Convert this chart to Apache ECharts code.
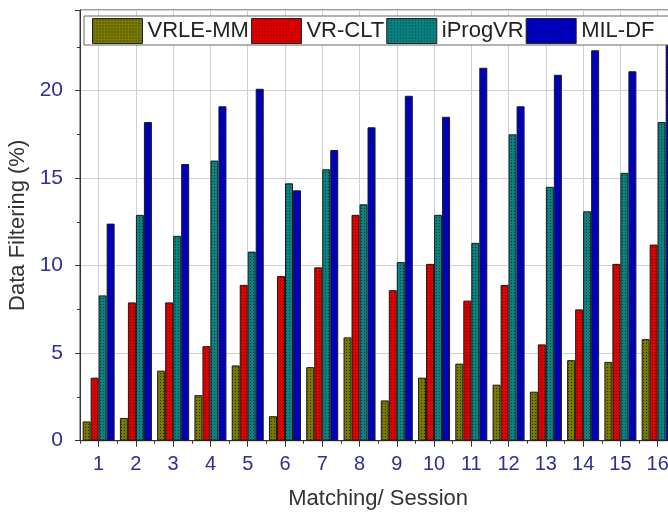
<!DOCTYPE html>
<html>
<head>
<meta charset="utf-8">
<title>Data Filtering per Matching Session</title>
<script src="https://cdn.jsdelivr.net/npm/echarts@6/dist/echarts.min.js"></script>
<style>
  html, body { margin: 0; padding: 0; background: #fff; }
  #chart { width: 668px; height: 514px; }
</style>
</head>
<body>
<div id="chart"></div>
<script>
// Sessions on the x axis
const sessions = ['1', '2', '3', '4', '5', '6', '7', '8', '9', '10', '11', '12', '13', '14', '15', '16'];

// Data filtering (%) per method
const vrleMM  = [1.1, 1.3, 4.0, 2.6, 4.3, 1.4, 4.2, 5.9, 2.3, 3.6, 4.4, 3.2, 2.8, 4.6, 4.5, 5.8];
const vrCLT   = [3.6, 7.9, 7.9, 5.4, 8.9, 9.4, 9.9, 12.9, 8.6, 10.1, 8.0, 8.9, 5.5, 7.5, 10.1, 11.2];
const iProgVR = [8.3, 12.9, 11.7, 16.0, 10.8, 14.7, 15.5, 13.5, 10.2, 12.9, 11.3, 17.5, 14.5, 13.1, 15.3, 18.2];
const milDF   = [12.4, 18.2, 15.8, 19.1, 20.1, 14.3, 16.6, 17.9, 19.7, 18.5, 21.3, 19.1, 20.9, 22.3, 21.1, 22.6];

const seriesNames = ['VRLE-MM', 'VR-CLT', 'iProgVR', 'MIL-DF'];

// Small dotted fill used for the bars and legend swatches
function dotted(base, dot) {
  const c = document.createElement('canvas');
  c.width = 3; c.height = 3;
  const ctx = c.getContext('2d');
  ctx.fillStyle = base;
  ctx.fillRect(0, 0, 3, 3);
  ctx.fillStyle = dot;
  ctx.fillRect(1, 1, 1, 1);
  return { image: c, repeat: 'repeat' };
}

const fills = [
  dotted('#7a7a00', '#2a2a00'),
  dotted('#e00000', '#6a0000'),
  dotted('#0a8282', '#003c3c'),
  dotted('#0000c0', '#000088')
];

const tickBlue = '#2e2e96';
const font = 'Liberation Sans, Arial, sans-serif';

const chart = echarts.init(document.getElementById('chart'), null, { renderer: 'canvas' });

const dataSets = [vrleMM, vrCLT, iProgVR, milDF];

chart.setOption({
  animation: false,
  backgroundColor: '#fff',
  grid: {
    left: 80,
    top: 10,
    width: 596.3,
    height: 430.7,
    outerBoundsMode: 'none',
    containLabel: false,
    show: true,
    borderColor: '#444',
    borderWidth: 1,
    backgroundColor: 'transparent'
  },
  legend: {
    left: 84,
    top: 16,
    width: 700,
    orient: 'horizontal',
    padding: [2, 24, 1, 8],
    itemWidth: 50,
    itemHeight: 25,
    itemGap: 2,
    backgroundColor: '#fff',
    borderColor: '#666',
    borderWidth: 1,
    icon: 'rect',
    itemStyle: { borderColor: '#222', borderWidth: 1 },
    textStyle: { fontSize: 22, fontFamily: font, color: '#222', padding: [0, 0, 0, 0] },
    data: seriesNames
  },
  xAxis: [
    {
      type: 'category',
      data: sessions,
      boundaryGap: true,
      name: 'Matching/ Session',
      nameLocation: 'middle',
      nameGap: 47,
      nameTextStyle: { fontSize: 22, fontFamily: font, color: '#333' },
      axisLine: { show: true, lineStyle: { color: '#333', width: 1 } },
      axisTick: { show: true, alignWithLabel: true, length: 6, lineStyle: { color: '#333' } },
      axisLabel: { fontSize: 20, fontFamily: font, color: tickBlue, margin: 14, interval: 0 },
      splitLine: { show: true, alignWithLabel: true, lineStyle: { color: '#d0d0d0', width: 1 } }
    },
    {
      // boundary ticks between sessions
      type: 'category',
      data: sessions,
      position: 'bottom',
      boundaryGap: true,
      axisLine: { show: false },
      axisTick: { show: true, length: 3, lineStyle: { color: '#333' } },
      axisLabel: { show: false },
      splitLine: { show: false }
    }
  ],
  yAxis: {
    type: 'value',
    min: 0,
    max: 24.6,
    interval: 5,
    name: 'Data Filtering (%)',
    nameLocation: 'middle',
    nameGap: 45,
    nameTextStyle: { fontSize: 22, fontFamily: font, color: '#333' },
    axisLine: { show: true, lineStyle: { color: '#333', width: 1 } },
    axisTick: { show: true, length: 5, lineStyle: { color: '#333' } },
    minorTick: { show: true, splitNumber: 2, length: 3, lineStyle: { color: '#333' } },
    axisLabel: { fontSize: 21, fontFamily: font, color: tickBlue, margin: 17, showMaxLabel: false },
    splitLine: { show: true, lineStyle: { color: '#d0d0d0', width: 1 } }
  },
  series: seriesNames.map((name, i) => ({
    name: name,
    type: 'bar',
    xAxisIndex: 0,
    data: dataSets[i],
    barWidth: 8,
    barGap: '0%',
    itemStyle: { color: fills[i], borderColor: '#1a1a1a', borderWidth: 1 }
  }))
});
</script>
</body>
</html>
